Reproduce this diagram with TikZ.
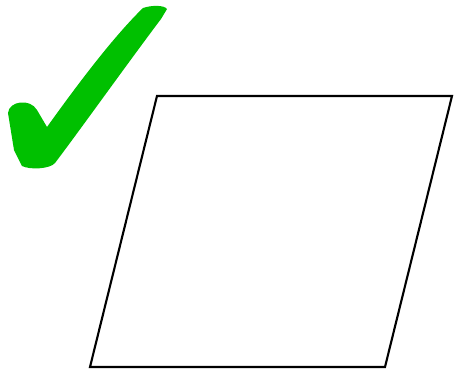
\documentclass[tikz,border=0pt]{standalone}
\usepackage{tikz}
\usepackage{xcolor}
\definecolor{tickgreen}{RGB}{0,192,0}

\begin{document}
\begin{tikzpicture}[x=0.02cm,y=-0.02cm]
\useasboundingbox (0,0) rectangle (454,373);
% green tick
\fill[tickgreen] (8,113) .. controls (9,101) and (30,98) .. (37,110) -- (47,127)
  .. controls (70,95) and (110,40) .. (143,8) .. controls (152,5) and (164,5) .. (167,9)
  -- (161,19) .. controls (130,60) and (80,130) .. (55,163)
  .. controls (50,169) and (30,170) .. (22,166) -- (14,150) -- cycle;
% parallelogram
\draw[line width=1.2pt,line join=miter] (157,96)--(452,96)--(385,367)--(90,367)--cycle;
\end{tikzpicture}
\end{document}
